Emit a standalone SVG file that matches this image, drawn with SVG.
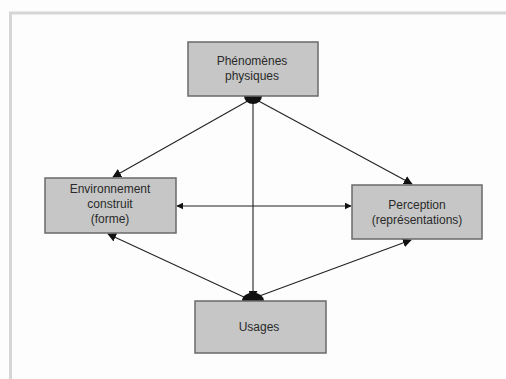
<svg xmlns="http://www.w3.org/2000/svg" width="506" height="379" viewBox="0 0 506 379">
<style>
.box{fill:#c6c6c6;stroke:#6a6a6a;stroke-width:1.5}
.t{font-family:"Liberation Sans",Arial,sans-serif;font-size:12px;fill:#2a2a2a;text-anchor:middle}
.c{stroke:#222;stroke-width:1.1;fill:none}
</style>
<defs>
<marker id="ah" viewBox="0 0 10 10" refX="9" refY="5" markerWidth="9" markerHeight="9" markerUnits="userSpaceOnUse" orient="auto-start-reverse">
<path d="M0,0L10,5L0,10z" fill="#111"/>
</marker>
<marker id="ahs" viewBox="0 0 10 10" refX="9" refY="5" markerWidth="7" markerHeight="7" markerUnits="userSpaceOnUse" orient="auto-start-reverse">
<path d="M0,0L10,5L0,10z" fill="#111"/>
</marker>
</defs>
<rect width="506" height="379" fill="#fdfdfd"/>
<line x1="9" y1="13" x2="506" y2="13" stroke="#d6d6d6" stroke-width="3"/>
<line x1="10.5" y1="13" x2="10.5" y2="379" stroke="#d6d6d6" stroke-width="3"/>
<g id="connectors">
<line class="c" x1="253" y1="98" x2="113" y2="177" marker-end="url(#ah)"/>
<line class="c" x1="253" y1="98" x2="412" y2="184" marker-end="url(#ah)"/>
<line class="c" x1="253" y1="98" x2="253" y2="299" marker-end="url(#ah)"/>
<line class="c" x1="246" y1="298" x2="108" y2="234" marker-end="url(#ah)"/>
<line class="c" x1="254" y1="298" x2="411" y2="240" marker-end="url(#ah)"/>
<line class="c" x1="177" y1="206" x2="351" y2="206" stroke-width="0.8" marker-start="url(#ahs)" marker-end="url(#ahs)"/>
<path d="M244,96 A9,8 0 0 0 262,96 Z" fill="#111"/>
<path d="M242,301 A9,7 0 0 1 264,301 Z" fill="#111"/>
</g>
<g id="phenomenes">
<rect class="box" x="188" y="42" width="130" height="54"/>
<text class="t" x="252" y="65">Phénomènes</text>
<text class="t" x="252" y="80">physiques</text>
</g>
<g id="environnement">
<rect class="box" x="45" y="178" width="131" height="55"/>
<text class="t" x="110" y="193">Environnement</text>
<text class="t" x="110" y="208">construit</text>
<text class="t" x="110" y="223">(forme)</text>
</g>
<g id="perception">
<rect class="box" x="352" y="185" width="130" height="54"/>
<text class="t" x="417" y="209">Perception</text>
<text class="t" x="417" y="224">(représentations)</text>
</g>
<g id="usages">
<rect class="box" x="195" y="301" width="131" height="52"/>
<text class="t" x="259" y="331">Usages</text>
</g>
</svg>
